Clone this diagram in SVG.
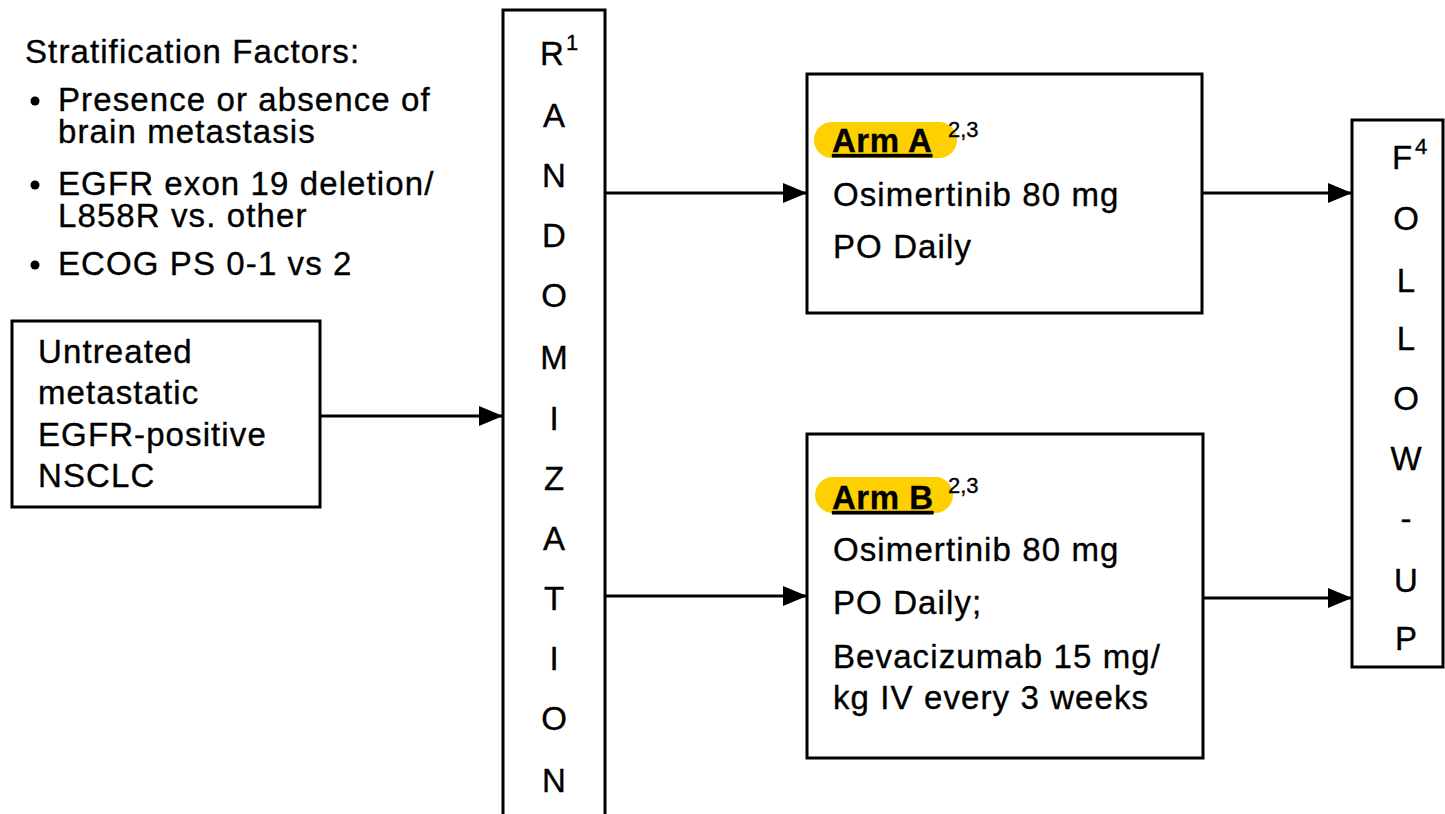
<svg xmlns="http://www.w3.org/2000/svg" width="1445" height="814" viewBox="0 0 1445 814">
<style>
text{font-family:"Liberation Sans",Arial,sans-serif;fill:#000;stroke:#000;stroke-width:0.35}
.t{font-size:33px;letter-spacing:1.1px}
.v{font-size:33px;text-anchor:middle}
.s{font-size:22px}
.box{fill:#fff;stroke:#000;stroke-width:3}
.arm{font-size:33px;font-weight:bold;text-decoration:underline;letter-spacing:0.5px}
.pill{fill:#FFD000}
.con{stroke:#000;stroke-width:3;fill:none}
</style>
<defs>
<marker id="ah" markerWidth="24" markerHeight="20" refX="24" refY="10" orient="auto" markerUnits="userSpaceOnUse" viewBox="0 0 24 20">
<path d="M0,0 L24,10 L0,20 Z" fill="#000"/>
</marker>
</defs>
<rect width="1445" height="814" fill="#fff"/>
<g id="strat">
<text class="t" x="25" y="63">Stratification Factors:</text>
<circle cx="35" cy="101" r="4.5"/>
<text class="t" x="58" y="111">Presence or absence of</text>
<text class="t" x="58" y="143">brain metastasis</text>
<circle cx="35" cy="185" r="4.5"/>
<text class="t" x="58" y="195">EGFR exon 19 deletion/</text>
<text class="t" x="58" y="227">L858R vs. other</text>
<circle cx="35" cy="265" r="4.5"/>
<text class="t" x="58" y="275">ECOG PS 0-1 vs 2</text>
</g>
<g id="untreated">
<rect class="box" x="12" y="321" width="308" height="186"/>
<text class="t" x="38" y="363">Untreated</text>
<text class="t" x="38" y="404">metastatic</text>
<text class="t" x="38" y="446">EGFR-positive</text>
<text class="t" x="38" y="487">NSCLC</text>
</g>
<g id="randomization">
<rect class="box" x="503" y="10" width="102" height="820"/>
<text class="v" x="552" y="65">R</text><text class="s" x="566" y="50">1</text>
<text class="v" x="554" y="127">A</text>
<text class="v" x="554" y="187">N</text>
<text class="v" x="554" y="247">D</text>
<text class="v" x="554" y="307">O</text>
<text class="v" x="554" y="369">M</text>
<text class="v" x="554" y="430">I</text>
<text class="v" x="554" y="490">Z</text>
<text class="v" x="554" y="550">A</text>
<text class="v" x="554" y="610">T</text>
<text class="v" x="554" y="670">I</text>
<text class="v" x="554" y="730">O</text>
<text class="v" x="554" y="792">N</text>
</g>
<g id="armA">
<rect class="box" x="807" y="74" width="395" height="239"/>
<rect class="pill" x="814" y="122" width="143" height="36" rx="18"/>
<text class="arm" x="832" y="152">Arm A</text>
<text class="s" x="948" y="137">2,3</text>
<text class="t" x="833" y="206">Osimertinib 80 mg</text>
<text class="t" x="833" y="258">PO Daily</text>
</g>
<g id="armB">
<rect class="box" x="807" y="434" width="396" height="324"/>
<rect class="pill" x="815" y="477" width="138" height="36" rx="18"/>
<text class="arm" x="832" y="509">Arm B</text>
<text class="s" x="948" y="493">2,3</text>
<text class="t" x="833" y="561">Osimertinib 80 mg</text>
<text class="t" x="833" y="614">PO Daily;</text>
<text class="t" x="833" y="668">Bevacizumab 15 mg/</text>
<text class="t" x="833" y="709">kg IV every 3 weeks</text>
</g>
<g id="followup">
<rect class="box" x="1352" y="120" width="91" height="547"/>
<text class="v" x="1402" y="169">F</text><text class="s" x="1415" y="154">4</text>
<text class="v" x="1406" y="230">O</text>
<text class="v" x="1406" y="292">L</text>
<text class="v" x="1406" y="350">L</text>
<text class="v" x="1406" y="410">O</text>
<text class="v" x="1406" y="470">W</text>
<text class="v" x="1406" y="530">-</text>
<text class="v" x="1406" y="592">U</text>
<text class="v" x="1406" y="650">P</text>
</g>
<g id="connectors">
<line class="con" x1="320" y1="416" x2="503" y2="416" marker-end="url(#ah)"/>
<line class="con" x1="605" y1="193" x2="807" y2="193" marker-end="url(#ah)"/>
<line class="con" x1="605" y1="596" x2="807" y2="596" marker-end="url(#ah)"/>
<line class="con" x1="1202" y1="193" x2="1352" y2="193" marker-end="url(#ah)"/>
<line class="con" x1="1203" y1="598" x2="1352" y2="598" marker-end="url(#ah)"/>
</g>
</svg>
